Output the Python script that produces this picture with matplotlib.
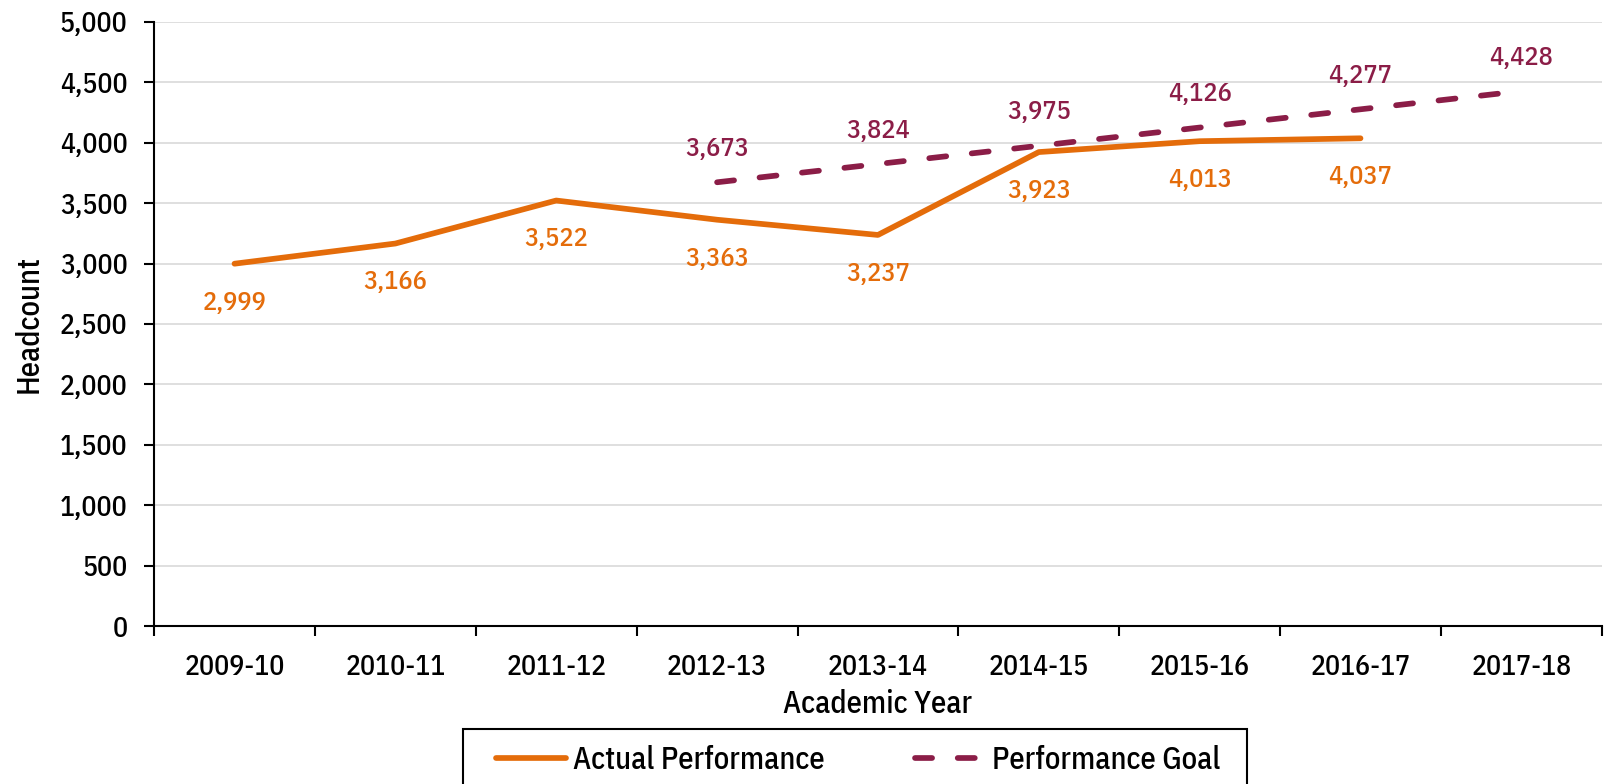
import matplotlib
matplotlib.use("Agg")
import matplotlib.pyplot as plt
from matplotlib.patches import Rectangle

# Data
years = ["2009-10", "2010-11", "2011-12", "2012-13", "2013-14",
         "2014-15", "2015-16", "2016-17", "2017-18"]
actual = [2999, 3166, 3522, 3363, 3237, 3923, 4013, 4037]
goal_years = ["2012-13", "2013-14", "2014-15", "2015-16", "2016-17", "2017-18"]
goal = [3673, 3824, 3975, 4126, 4277, 4428]

# narrow font, close to the Arial Narrow of the original
plt.rcParams['font.family'] = ['IBM Plex Sans Condensed', 'Open Sans', 'DejaVu Sans']
plt.rcParams['font.stretch'] = 'condensed'
plt.rcParams['font.weight'] = 500

orange = "#E46C0A"
maroon = "#8B1D47"

W, H = 1605, 784
fig = plt.figure(figsize=(W / 100, H / 100), dpi=100)
ax = fig.add_axes([0.096, 0.2015, 0.902, 0.7705])

xa = [years.index(y) for y in years[:len(actual)]]
xg = [years.index(y) for y in goal_years]

ax.plot(xa, actual, color=orange, lw=4.1, solid_capstyle='round',
        solid_joinstyle='round', label="Actual Performance", zorder=3)
ax.plot(xg, goal, color=maroon, lw=4.1, dashes=(3.0, 4.5), dash_capstyle='round',
        label="Performance Goal", zorder=3)

# Data labels
for x, v in zip(xa, actual):
    ax.annotate(f"{v:,}", (x, v), xytext=(0, -28), textcoords='offset points',
                ha='center', va='center', color=orange, fontsize=19)
for x, v in zip(xg, goal):
    ax.annotate(f"{v:,}", (x, v), xytext=(0, 24), textcoords='offset points',
                ha='center', va='center', color=maroon, fontsize=19)

ax.set_xlim(-0.5, len(years) - 0.5)
ax.set_ylim(0, 5000)
ax.set_yticks(range(0, 5001, 500))
ax.set_yticklabels([f"{v:,}" for v in range(0, 5001, 500)], fontsize=20)
ax.set_xticks(range(len(years)))
ax.set_xticklabels(years, fontsize=20)
ax.set_xticks([i - 0.5 for i in range(len(years) + 1)], minor=True)
ax.tick_params(axis='x', which='major', length=0, pad=20)
ax.tick_params(axis='x', which='minor', length=7, width=1.5, color='black')
ax.tick_params(axis='y', length=7, width=1.5, pad=12)

ax.grid(axis='y', color='#D9D9D9', lw=1.2)
ax.set_axisbelow(True)
for s in ['top', 'right']:
    ax.spines[s].set_visible(False)
for s in ['left', 'bottom']:
    ax.spines[s].set_linewidth(1.5)

ax.set_xlabel("Academic Year", fontsize=22, fontweight=500, labelpad=6)
ax.set_ylabel("Headcount", fontsize=22, fontweight=500, labelpad=12)

# legend without its own frame; the box is drawn separately (runs off the bottom)
leg = fig.legend(loc='center', bbox_to_anchor=(858 / W, 1 - 760 / H), ncol=2,
                 fontsize=22, frameon=False,
                 handlelength=2.3, columnspacing=2.95, handletextpad=0.22,
                 borderpad=0, borderaxespad=0)
fig.patches.append(Rectangle((463 / W, -0.05), (1247 - 463) / W, 0.05 + 1 - 729 / H,
                             transform=fig.transFigure, fill=False,
                             edgecolor='black', lw=1.5))

fig.savefig("out.png", dpi=100)
